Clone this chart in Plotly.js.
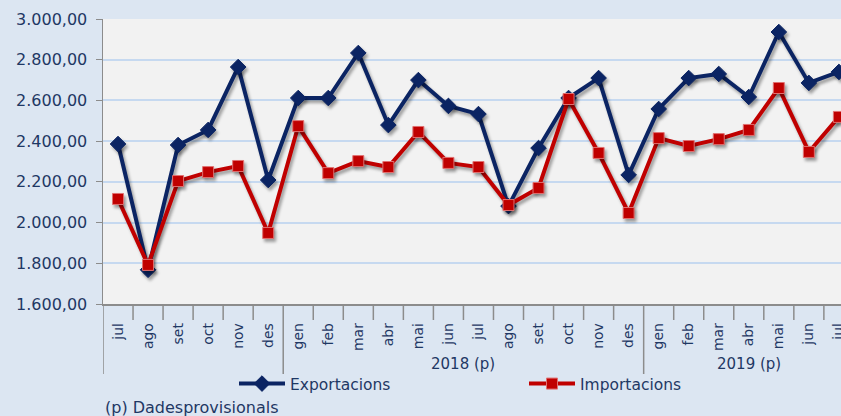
<!DOCTYPE html>
<html>
<head>
<meta charset="utf-8">
<script src="https://cdn.plot.ly/plotly-3.0.1.min.js"></script>
<style>
html,body{margin:0;padding:0;background:#dce6f2;}
#chart{width:841px;height:416px;}
.scatterlayer .trace path.js-line, .scatterlayer .trace .points path{filter:drop-shadow(2px 3px 1.5px rgba(0,0,0,0.35));}
</style>
</head>
<body>
<div id="chart"></div>
<script>
const months = ["jul","ago","set","oct","nov","des","gen","feb","mar","abr","mai","jun","jul","ago","set","oct","nov","des","gen","feb","mar","abr","mai","jun","jul"];
const exportacions = [2386,1768,2381,2455,2764,2209,2612,2612,2833,2479,2700,2573,2533,2081,2366,2612,2710,2234,2558,2710,2730,2617,2936,2686,2740];
const importacions = [2116,1792,2204,2248,2278,1949,2474,2243,2302,2273,2445,2293,2273,2086,2170,2607,2342,2047,2415,2376,2410,2455,2661,2347,2519];
const groupLabels = ["", "2018 (p)", "2019 (p)"];
const groupStarts = [0, 6, 18];
const groupEnds = [5, 17, 24];
const yTicks = [1600,1800,2000,2200,2400,2600,2800,3000];

const idx = months.map((m,i)=>i);
const textColor = "#1f3864";
const font = "DejaVu Sans, Verdana, sans-serif";

const traces = [
  {x: idx, y: exportacions, name: "Exportacions", type: "scatter", mode: "lines+markers",
   line: {color: "#0b2463", width: 4},
   marker: {symbol: "diamond", size: 12, color: "#0b2463", line: {color: "#0b2463", width: 1}}},
  {x: idx, y: importacions, name: "Importacions", type: "scatter", mode: "lines+markers",
   line: {color: "#c00000", width: 4},
   marker: {symbol: "square", size: 11, color: "#c00000", line: {color: "#e07070", width: 1}}}
];

const shapes = [];
const ySmall = -16/285, yLong = -70/285;
for (let i = 0; i <= months.length; i++) {
  const b = i - 0.5;
  const isGroup = groupStarts.includes(i);
  shapes.push({type: "line", xref: "x", yref: "paper", x0: b, x1: b, y0: 0, y1: isGroup ? yLong : ySmall,
    line: {color: "#8c8c8c", width: 1.5}});
}

const annotations = [];
groupLabels.forEach((g, k) => {
  if (!g) return;
  annotations.push({xref: "x", yref: "paper", x: (groupStarts[k] + groupEnds[k]) / 2, y: -60/285,
    text: g, showarrow: false, xanchor: "center", yanchor: "middle",
    font: {family: font, size: 15, color: textColor}});
});
annotations.push({xref: "paper", yref: "paper", x: 0, y: -103/285, text: "(p) Dadesprovisionals",
  showarrow: false, xanchor: "left", yanchor: "middle", font: {family: font, size: 16, color: textColor}});

const layout = {
  width: 841, height: 416,
  margin: {l: 103, r: 0, t: 19, b: 112, pad: 0},
  paper_bgcolor: "#dce6f2",
  plot_bgcolor: "#f2f2f2",
  separators: ",.",
  showlegend: true,
  legend: {orientation: "h", xref: "container", yref: "container", x: 234/841, xanchor: "left",
    y: 1 - 367/416, yanchor: "top", entrywidth: 229, entrywidthmode: "pixels", bgcolor: "rgba(0,0,0,0)",
    tracegroupgap: 0, itemwidth: 46,
    font: {family: font, size: 15.5, color: textColor}},
  xaxis: {type: "linear", range: [-0.5, 24.07], tickmode: "array", tickvals: idx, ticktext: months,
    tickangle: -90, ticks: "", showgrid: false, zeroline: false, showline: true, automargin: false,
    linecolor: "#8c8c8c", linewidth: 1.5, tickfont: {family: font, size: 14, color: textColor},
    ticklabelstandoff: 12, ticklabeloverflow: "allow"},
  yaxis: {range: [1600, 3000], tickmode: "array", tickvals: yTicks, tickformat: ",.2f", automargin: false,
    ticks: "outside", ticklen: 6, tickcolor: "#8c8c8c", showline: true, linecolor: "#8c8c8c", linewidth: 1.5,
    gridcolor: "#c6d9f0", gridwidth: 2, zeroline: false,
    tickfont: {family: font, size: 16, color: textColor}, ticklabelstandoff: 5},
  shapes: shapes,
  annotations: annotations
};

Plotly.newPlot("chart", traces, layout, {displayModeBar: false, staticPlot: true});
</script>
</body>
</html>
